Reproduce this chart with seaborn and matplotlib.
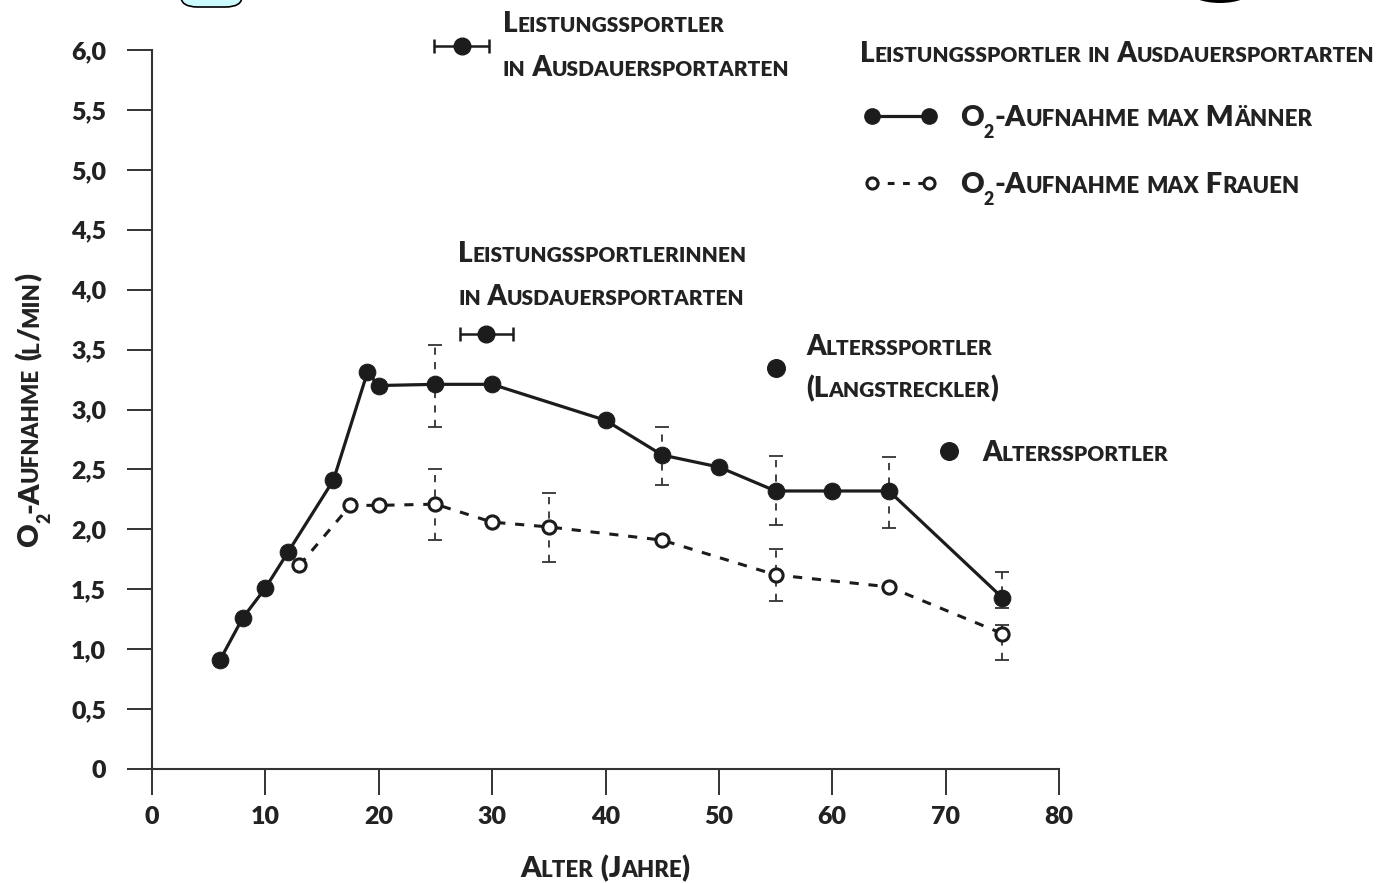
import matplotlib
matplotlib.use("Agg")
import matplotlib.pyplot as plt
from matplotlib import transforms
from matplotlib.lines import Line2D
from matplotlib.patches import FancyBboxPatch, Ellipse
import seaborn as sns
import pandas as pd

# ---------------- data ----------------
men_age = [6, 8, 10, 12, 16, 19, 20, 25, 30, 40, 45, 50, 55, 60, 65, 75]
men_vo2 = [0.91, 1.26, 1.51, 1.81, 2.41, 3.31, 3.20, 3.21, 3.21, 2.91, 2.62, 2.52, 2.32, 2.32, 2.32, 1.43]

women_age = [13, 17.5, 20, 25, 30, 35, 45, 55, 65, 75]
women_vo2 = [1.70, 2.20, 2.20, 2.21, 2.06, 2.02, 1.91, 1.62, 1.52, 1.13]

men_err_age = [25, 45, 55, 65, 75]
men_err_lo = [2.85, 2.37, 2.04, 2.01, 1.34]
men_err_hi = [3.54, 2.85, 2.61, 2.60, 1.64]

women_err_age = [25, 35, 55, 75]
women_err_lo = [1.91, 1.73, 1.40, 0.91]
women_err_hi = [2.50, 2.30, 1.84, 1.20]

athlete_age = [27.3, 29.5]
athlete_vo2 = [6.03, 3.63]
athlete_age_err = [2.4, 2.3]

senior_age = [55, 70.3]
senior_vo2 = [3.35, 2.65]

y_ticks = [0, 0.5, 1.0, 1.5, 2.0, 2.5, 3.0, 3.5, 4.0, 4.5, 5.0, 5.5, 6.0]
y_labels = ["0", "0,5", "1,0", "1,5", "2,0", "2,5", "3,0", "3,5", "4,0", "4,5", "5,0", "5,5", "6,0"]
x_ticks = [0, 10, 20, 30, 40, 50, 60, 70, 80]

# ---------------- style ----------------
sns.set_style("white")
FONT = "Lato"
WEIGHT = "heavy"
plt.rcParams["font.family"] = [FONT, "DejaVu Sans"]
plt.rcParams["font.weight"] = WEIGHT
INK = "#1c1c1c"
TXT = "#222222"

W, H = 1384, 883
fig = plt.figure(figsize=(W / 100, H / 100), dpi=100)
fig.patch.set_facecolor("white")
ax = fig.add_axes([152 / W, (H - 769) / H, (1059 - 152) / W, (769 - 50) / H])
ax.set_xlim(0, 80)
ax.set_ylim(0, 6)

# ---------------- marks ----------------
df_m = pd.DataFrame({"age": men_age, "vo2": men_vo2})
df_w = pd.DataFrame({"age": women_age, "vo2": women_vo2})

# error bars (dashed, capped)
for ages, lo, hi in [(men_err_age, men_err_lo, men_err_hi),
                     (women_err_age, women_err_lo, women_err_hi)]:
    mid = [(a + b) / 2 for a, b in zip(lo, hi)]
    half = [(b - a) / 2 for a, b in zip(lo, hi)]
    eb = ax.errorbar(ages, mid, yerr=half, fmt="none", ecolor="#333333",
                     elinewidth=1.3, capsize=5, capthick=1.3, zorder=2)
    for bc in eb[2]:
        bc.set_linestyle((0, (4, 4)))

sns.lineplot(data=df_w, x="age", y="vo2", ax=ax, color=INK, lw=2.2,
             linestyle=(0, (3, 3.2)), marker="o", ms=9.5,
             markerfacecolor="white", markeredgecolor=INK, mew=2.2,
             zorder=3, sort=False)
sns.lineplot(data=df_m, x="age", y="vo2", ax=ax, color=INK, lw=2.3,
             marker="o", ms=12, markerfacecolor=INK, markeredgecolor=INK,
             zorder=4, sort=False)

# elite athletes with horizontal ranges
ax.errorbar(athlete_age, athlete_vo2, xerr=athlete_age_err, fmt="o", color=INK,
            ms=12, elinewidth=1.8, capsize=5, capthick=1.8, clip_on=False, zorder=5)
# senior athletes
sns.scatterplot(x=senior_age, y=senior_vo2, ax=ax, color=INK, s=160,
                edgecolor=INK, zorder=5)

# ---------------- axes ----------------
for s in ["top", "right"]:
    ax.spines[s].set_visible(False)
for s in ["left", "bottom"]:
    ax.spines[s].set_linewidth(1.5)
    ax.spines[s].set_color("#333333")
ax.set_yticks(y_ticks)
ax.set_yticklabels(y_labels)
ax.set_xticks(x_ticks)
ax.tick_params(axis="y", length=18, width=1.4, pad=15, labelsize=18,
               colors="#333333", labelcolor=TXT, left=True)
ax.tick_params(axis="x", length=19, width=1.4, pad=8, labelsize=18,
               colors="#333333", labelcolor=TXT, bottom=True)
for lab in ax.get_xticklabels() + ax.get_yticklabels():
    lab.set_fontweight(WEIGHT)
ax.set_xlabel("")
ax.set_ylabel("")
ax.grid(False)

# ---------------- small-caps text helper ----------------
renderer = fig.canvas.get_renderer()


def kind(ch):
    if ch == "\u2082":
        return "sub"
    return "small" if ch.islower() else "big"


def sc_runs(s):
    runs = []
    for ch in s:
        k = kind(ch)
        if runs and runs[-1][1] == k:
            runs[-1][0] += ch
        else:
            runs.append([ch, k])
    out = []
    for t, k in runs:
        if k == "small":
            t = t.upper()
        elif k == "sub":
            t = t.replace("\u2082", "2")
        out.append((t, k))
    return out


def advance(t, size):
    a = fig.text(0, 0, "x" + t + "x", fontsize=size, fontweight=WEIGHT)
    b = fig.text(0, 0, "xx", fontsize=size, fontweight=WEIGHT)
    w = a.get_window_extent(renderer).width - b.get_window_extent(renderer).width
    a.remove()
    b.remove()
    return w


def smallcaps(x, y, s, big, small, transform, ha="left", rotation=0, color=TXT):
    runs = sc_runs(s)
    texts, lens, drops = [], [], []
    for t, k in runs:
        size = {"big": big, "small": small, "sub": small * 0.8}[k]
        drop = big * 0.42 * 100 / 72 if k == "sub" else 0.0
        txt = fig.text(x, y, t, fontsize=size, transform=transform, ha="left",
                       va="baseline", rotation=rotation, rotation_mode="anchor",
                       fontweight=WEIGHT, color=color)
        texts.append(txt)
        lens.append(advance(t, size))
        drops.append(drop)
    total = sum(lens)
    off = {"left": 0.0, "center": -total / 2, "right": -total}[ha]
    for txt, L, d in zip(texts, lens, drops):
        if rotation == 90:
            txt.set_transform(transform + transforms.Affine2D().translate(d, off))
        else:
            txt.set_transform(transform + transforms.Affine2D().translate(off, -d))
        off += L


def P(x, y):
    return (x / W, 1 - y / H)


FT = fig.transFigure

# axis titles
smallcaps(*P(605, 877), "Alter (Jahre)", 21, 16, FT, ha="center")
smallcaps(*P(38, 410), "O\u2082-Aufnahme (l/min)", 21, 16, FT, ha="center", rotation=90)

# annotations
smallcaps(*P(503, 32), "Leistungssportler", 20, 15, FT)
smallcaps(*P(503, 76), "in Ausdauersportarten", 20, 15, FT)
smallcaps(*P(458, 262), "Leistungssportlerinnen", 20, 15, FT)
smallcaps(*P(458, 305), "in Ausdauersportarten", 20, 15, FT)
smallcaps(*P(806, 355), "Alterssportler", 20, 15, FT)
smallcaps(*P(806, 397), "(Langstreckler)", 20, 15, FT)
smallcaps(*P(982, 461), "Alterssportler", 20, 15, FT)

# legend
smallcaps(*P(860, 62), "Leistungssportler in Ausdauersportarten", 20, 15, FT)
smallcaps(*P(960, 126), "O\u2082-Aufnahme max Männer", 21, 16, FT)
smallcaps(*P(960, 193), "O\u2082-Aufnahme max Frauen", 21, 16, FT)
(x0, y0), (x1, _) = P(872, 116), P(929, 116)
fig.add_artist(Line2D([x0, x1], [y0, y0], transform=FT, color=INK, lw=2.3,
                      marker="o", ms=11, mfc=INK, mec=INK))
(x0, y0), (x1, _) = P(872, 183), P(929, 183)
fig.add_artist(Line2D([x0, x1], [y0, y0], transform=FT, color=INK, lw=2.2,
                      linestyle=(0, (2.2, 2.8))))
fig.add_artist(Line2D([x0, x1], [y0, y0], transform=FT, lw=0, marker="o",
                      ms=8, mfc="white", mec=INK, mew=2.2))

# scan artefacts at the top edge
fig.add_artist(FancyBboxPatch((181 / W, 1 - 7 / H), 61 / W, 40 / H,
                              boxstyle="round,pad=0,rounding_size=0.012",
                              transform=FT, fc="#ccfbff", ec="black", lw=1.2))
fig.add_artist(Ellipse((1220 / W, 1 + 10 / H), 64 / W, 26 / H, transform=FT,
                       fc="black", ec="none"))

fig.savefig("out.png", dpi=100)
